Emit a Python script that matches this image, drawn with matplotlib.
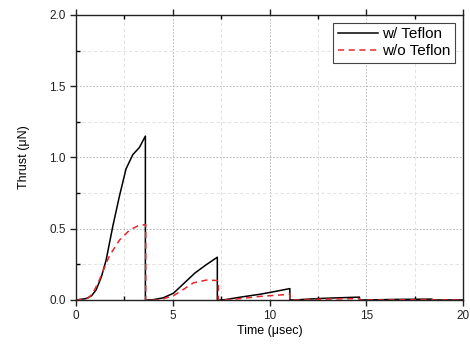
import matplotlib
matplotlib.use('Agg')
import matplotlib.pyplot as plt
from matplotlib.ticker import MultipleLocator

plt.rcParams['font.family'] = ['Liberation Sans', 'DejaVu Sans']

# thrust pulses (time in usec, thrust in uN)
t_teflon = [0, 0.52, 0.8, 1.03, 1.3, 1.55, 1.9, 2.24, 2.58, 2.93, 3.27, 3.58, 3.58,
            3.9, 4.5, 5.03, 5.6, 6.15, 6.7, 7.3, 7.3, 7.6, 8.5, 9.5, 10.3, 11.05, 11.05,
            11.3, 12.5, 13.5, 14.65, 14.65, 15, 16.5, 18.4, 18.4, 20]
y_teflon = [0, 0.01, 0.03, 0.07, 0.16, 0.28, 0.52, 0.73, 0.92, 1.02, 1.07, 1.15, 0,
            0, 0.015, 0.047, 0.12, 0.19, 0.245, 0.30, 0, 0, 0.02, 0.04, 0.06, 0.08, 0,
            0, 0.01, 0.015, 0.02, 0, 0, 0.004, 0.006, 0, 0]

t_no_teflon = [0, 0.5, 0.69, 0.95, 1.2, 1.72, 2.24, 2.76, 3.19, 3.6, 3.6, 4.3, 5.03,
               5.5, 6.06, 6.75, 7.35, 7.35, 7.6, 8.5, 9.5, 11.05, 11.05, 11.3, 12.5,
               14.65, 14.65, 15, 18.4, 18.4, 20]
y_no_teflon = [0, 0.005, 0.02, 0.07, 0.14, 0.31, 0.42, 0.49, 0.52, 0.53, 0, 0, 0.03,
               0.07, 0.12, 0.14, 0.136, 0, 0, 0.01, 0.025, 0.04, 0, 0, 0.005,
               0.01, 0, 0, 0.003, 0, 0]

fig = plt.figure(figsize=(4.7, 3.48), dpi=100)
ax = fig.add_axes([0.162, 0.138, 0.823, 0.819])

ax.plot(t_teflon, y_teflon, color='black', linewidth=1.1, label='w/ Teflon')
ax.plot(t_no_teflon, y_no_teflon, color='#e8262a', linestyle=(0, (4, 3)), linewidth=1.1,
        label='w/o Teflon')

ax.set_xlim(0, 20)
ax.set_ylim(0, 2.0)
ax.xaxis.set_minor_locator(MultipleLocator(2.5))
ax.yaxis.set_minor_locator(MultipleLocator(0.25))
ax.set_xticks([0, 5, 10, 15, 20])
ax.set_xticklabels(['0', '5', '10', '15', '20'])
ax.set_yticks([0, 0.5, 1.0, 1.5, 2.0])
ax.set_yticklabels(['0.0', '0.5', '1.0', '1.5', '2.0'])

ax.grid(True, which='major', color='#b0b0b0', linestyle=(0, (2, 2)), linewidth=0.6)
ax.grid(True, which='minor', color='#dddddd', linestyle=(0, (4, 3)), linewidth=0.6)

ax.tick_params(which='major', direction='out', length=4, width=1, labelsize=8.5,
               top=True, right=False, colors='#222222')
ax.tick_params(which='minor', direction='in', length=3, width=1, top=True)
for s in ax.spines.values():
    s.set_linewidth(1.0)
    s.set_color('#222222')

ax.set_xlabel('Time (\u03bcsec)', fontsize=9, labelpad=2)
ax.set_ylabel('Thrust (\u03bcN)', fontsize=9, labelpad=14)

leg = ax.legend(loc='upper right', fontsize=11, fancybox=False, framealpha=1,
                edgecolor='#444444', handlelength=2.6, borderpad=0.3, labelspacing=0.2,
                handletextpad=0.3, borderaxespad=0.5)
leg.get_frame().set_linewidth(0.8)

fig.savefig('out.png', dpi=100)
